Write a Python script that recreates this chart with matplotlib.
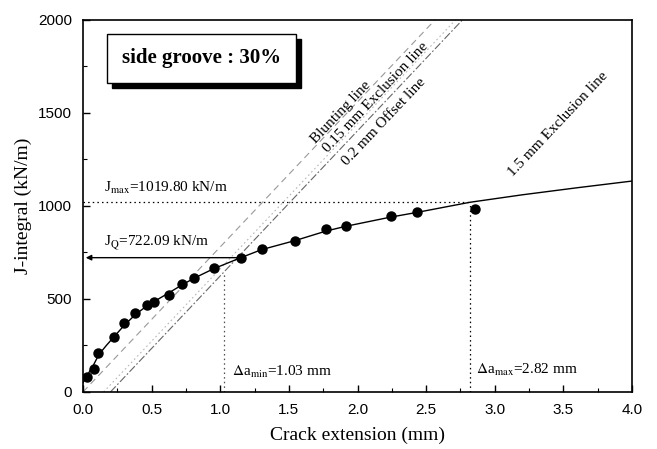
import matplotlib
matplotlib.use("Agg")
import matplotlib.pyplot as plt
import numpy as np
from matplotlib.patches import Rectangle
from matplotlib.ticker import MultipleLocator, FormatStrFormatter

plt.rcParams['mathtext.fontset'] = 'stix'

# ---- data ----
crack_ext = [0.031, 0.078, 0.113, 0.228, 0.300, 0.380, 0.463, 0.519, 0.629, 0.723,
             0.812, 0.956, 1.151, 1.304, 1.547, 1.770, 1.914, 2.242, 2.434, 2.856]
j_integral = [82, 125, 208, 294, 370, 425, 467, 485, 523, 581,
              613, 668, 722, 771, 812, 875, 892, 946, 966, 984]

fit_x = [0.0, 0.03, 0.08, 0.115, 0.17, 0.23, 0.30, 0.38, 0.46, 0.55, 0.63, 0.72, 0.81,
         0.95, 1.15, 1.30, 1.55, 1.77, 1.91, 2.24, 2.43, 2.82, 3.2, 3.6, 4.0]
fit_j = [50, 88, 150, 200, 250, 300, 358, 415, 460, 500, 535, 575, 612,
         662, 722, 765, 815, 865, 890, 940, 965, 1020, 1060, 1098, 1134]

blunt_slope = 780.0          # kN/m per mm
line_offsets = [0.0, 0.15, 0.2]
line_names = ["Blunting line", "0.15 mm Exclusion line", "0.2 mm Offset line"]

j_max = 1019.80
j_q = 722.09
da_min = 1.03
da_max = 2.82
j_q_x = 1.151

fig = plt.figure(figsize=(6.57, 4.49), dpi=100)
ax = fig.add_axes([0.1263, 0.127, 0.8357, 0.8285])
ax.set_xlim(0, 4.0)
ax.set_ylim(0, 2000)

serif = 'Liberation Serif'
sans = 'Liberation Sans'

# construction lines
styles = [dict(color='0.6', ls=(0, (6, 4)), lw=0.8),
          dict(color='0.72', ls=(0, (1.5, 2.5)), lw=0.8),
          dict(color='0.4', ls=(0, (7, 2, 1.5, 2)), lw=0.8)]
for off, st in zip(line_offsets, styles):
    jj = np.array([0.0, 2000.0])
    ax.plot(off + jj / blunt_slope, jj, **st, zorder=1)

# dotted guide lines
ax.plot([0, da_max], [j_max, j_max], color='k', ls=(0, (1.2, 2.5)), lw=0.9)
ax.plot([da_max, da_max], [0, j_max], color='k', ls=(0, (1.2, 2.5)), lw=0.9)
ax.plot([da_min, da_min], [0, blunt_slope * (da_min - 0.2)], color='0.3', ls=(0, (1.2, 2.5)), lw=0.9)

# JQ arrow
ax.annotate('', xy=(0.02, j_q), xytext=(j_q_x, j_q),
            arrowprops=dict(arrowstyle='-|>', color='k', lw=1.0, mutation_scale=8,
                            shrinkA=0, shrinkB=0))

# fitted curve and points
ax.plot(fit_x, fit_j, color='k', lw=1.0, zorder=3)
ax.plot(crack_ext, j_integral, 'o', color='k', ms=6.5, zorder=4)

# annotations
fs = 11
ax.text(0.155, 1095, r'J$_{\rm max}$=1019.80 kN/m', family=serif, fontsize=fs, va='center', ha='left')
ax.text(0.153, 801, r'J$_{\rm Q}$=722.09 kN/m', family=serif, fontsize=fs, va='center', ha='left')
ax.text(1.086, 108, r'$\Delta$a$_{\rm min}$=1.03 mm', family=serif, fontsize=fs, va='center', ha='left')
ax.text(2.861, 118, r'$\Delta$a$_{\rm max}$=2.82 mm', family=serif, fontsize=fs, va='center', ha='left')

# rotation angle of the lines in display space
fig.canvas.draw()
p0 = ax.transData.transform((0, 0))
p1 = ax.transData.transform((1, blunt_slope))
ang = np.degrees(np.arctan2(p1[1] - p0[1], p1[0] - p0[0]))

label_pos = [(1.88, 1503), (2.131, 1584), (2.193, 1454)]
for (lx, ly), name in zip(label_pos, line_names):
    ax.text(lx, ly, name, family=serif, fontsize=11, rotation=ang,
            rotation_mode='anchor', ha='center', va='center')
ax.text(3.463, 1440, "1.5 mm Exclusion line", family=serif, fontsize=11, rotation=ang,
        rotation_mode='anchor', ha='center', va='center')

# side groove box with shadow
ax.add_patch(Rectangle((0.21, 1635), 1.377, 264, facecolor='k', edgecolor='k',
                       zorder=5))
ax.add_patch(Rectangle((0.175, 1661), 1.377, 264, facecolor='white', edgecolor='k',
                       lw=1.0, zorder=6))
ax.text(0.8635, 1793, 'side groove : 30%', family=serif, fontsize=15, fontweight='bold',
        ha='center', va='center', zorder=7)

# axes styling
ax.xaxis.set_major_locator(MultipleLocator(0.5))
ax.xaxis.set_minor_locator(MultipleLocator(0.25))
ax.yaxis.set_major_locator(MultipleLocator(500))
ax.yaxis.set_minor_locator(MultipleLocator(250))
ax.xaxis.set_major_formatter(FormatStrFormatter('%.1f'))
ax.tick_params(which='both', direction='in', top=False, right=False)
ax.tick_params(which='major', length=5, width=1.0)
ax.tick_params(axis='x', which='major', pad=8)
ax.tick_params(axis='y', which='major', pad=8)
ax.tick_params(which='minor', length=3, width=0.8)
for lab in ax.get_xticklabels() + ax.get_yticklabels():
    lab.set_family(sans)
    lab.set_fontsize(11)
for sp in ax.spines.values():
    sp.set_linewidth(1.2)

ax.set_xlabel('Crack extension (mm)', family=serif, fontsize=14, labelpad=7)
ax.set_ylabel('J-integral (kN/m)', family=serif, fontsize=14, labelpad=4)

fig.savefig('out.png', dpi=100)
